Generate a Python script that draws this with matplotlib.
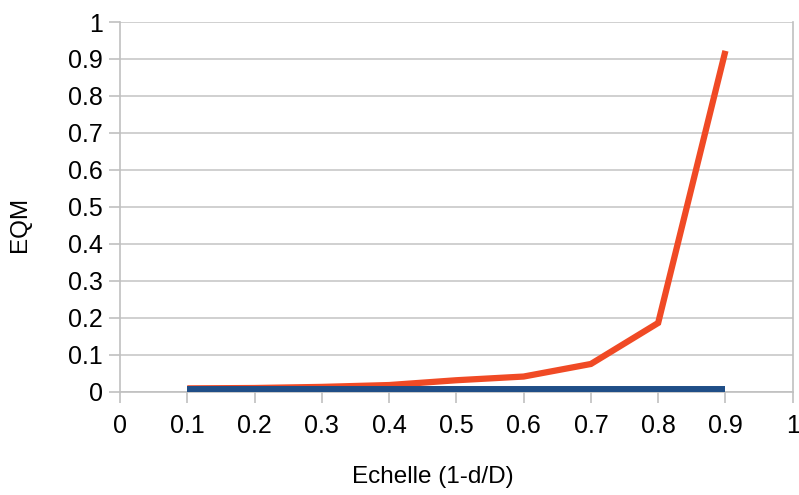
import matplotlib
matplotlib.use("Agg")
import matplotlib.pyplot as plt

x = [0.1, 0.2, 0.3, 0.4, 0.5, 0.6, 0.7, 0.8, 0.9]
eqm_orange = [0.009, 0.010, 0.013, 0.018, 0.031, 0.041, 0.075, 0.186, 0.922]
eqm_blue = [0.006, 0.006, 0.006, 0.006, 0.006, 0.006, 0.006, 0.006, 0.006]
ticks = [0, 0.1, 0.2, 0.3, 0.4, 0.5, 0.6, 0.7, 0.8, 0.9, 1]
tick_labels = ["0", "0.1", "0.2", "0.3", "0.4", "0.5", "0.6", "0.7", "0.8", "0.9", "1"]

plt.rcParams['font.family'] = ['Liberation Sans', 'DejaVu Sans']

W, H = 799, 495
fig = plt.figure(figsize=(W / 100, H / 100), dpi=100)
ax = fig.add_axes([120 / W, 1 - 391.7 / H, (792.7 - 120) / W, (391.7 - 22) / H])

ax.plot(x, eqm_orange, color="#f04a25", lw=4.5, solid_capstyle="butt", solid_joinstyle="miter", zorder=3)
ax.plot(x, eqm_blue, color="#1f4e87", lw=4.3, solid_capstyle="butt", zorder=4)

ax.set_xlim(0, 1)
ax.set_ylim(0, 1)
ax.set_xticks(ticks)
ax.set_xticklabels(tick_labels)
ax.set_yticks(ticks)
ax.set_yticklabels(tick_labels)
ax.yaxis.grid(True, color="#c8c8c8", lw=1.2)
ax.set_axisbelow(True)
ax.spines["top"].set_visible(False)
for s in ["left", "right", "bottom"]:
    ax.spines[s].set_color("#c0c0c0")
    ax.spines[s].set_linewidth(1.2)
ax.tick_params(axis="both", colors="#c0c0c0", length=8, width=1.2, labelcolor="black", labelsize=18)
ax.tick_params(axis="x", pad=8)
ax.tick_params(axis="y", pad=4.5)

fig.text(432.5 / W, 1 - 477 / H, "Echelle (1-d/D)", fontsize=17.5, ha="center", va="center")
fig.text(20 / W, 1 - 224 / H, "EQM", fontsize=17.5, ha="center", va="center", rotation=90)

fig.savefig("out.png", dpi=100)
